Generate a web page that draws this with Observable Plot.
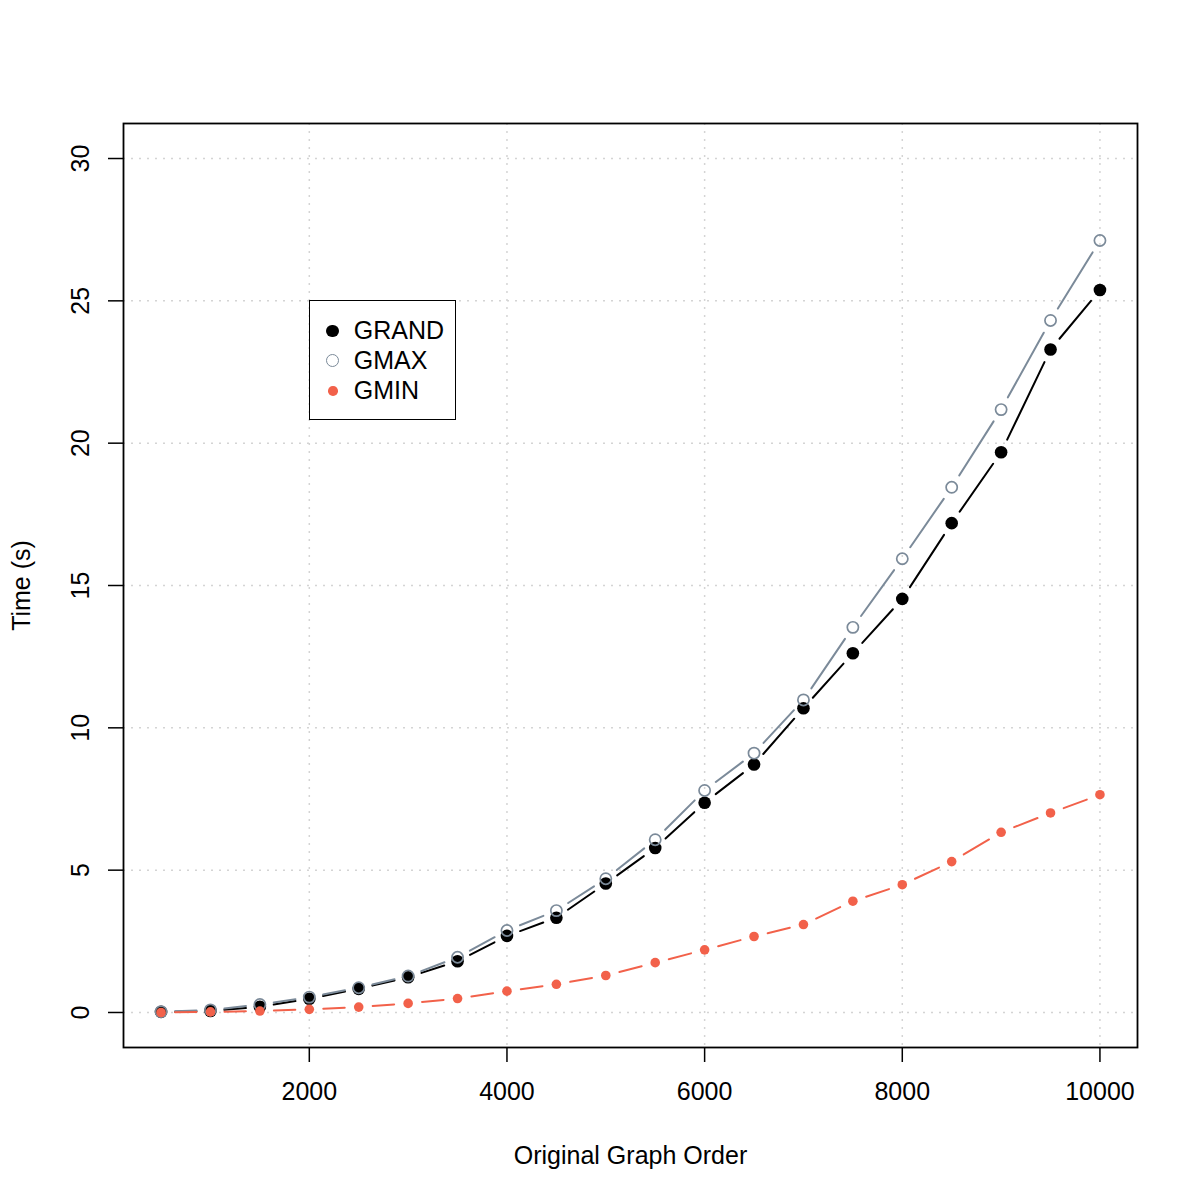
<!DOCTYPE html>
<html>
<head>
<meta charset="utf-8">
<script src="https://cdn.jsdelivr.net/npm/d3@7"></script>
<script src="https://cdn.jsdelivr.net/npm/@observablehq/plot@0.6"></script>
<style>
  html, body { margin: 0; padding: 0; background: #fff; }
  #wrap { position: relative; width: 1200px; height: 1200px; font-family: "Liberation Sans", Arial, Helvetica, sans-serif; }
  #legend { position: absolute; box-sizing: border-box; border: 1.5px solid #000; background: #fff; }
  .item { position: absolute; font-size: 25px; line-height: 1; white-space: nowrap; color: #000; }
  .sym { position: absolute; box-sizing: border-box; border-radius: 50%; }
</style>
</head>
<body>
<div id="wrap"></div>
<script>
// ---- data ----
const graphOrder = [500, 1000, 1500, 2000, 2500, 3000, 3500, 4000, 4500, 5000,
                    5500, 6000, 6500, 7000, 7500, 8000, 8500, 9000, 9500, 10000];
const grandTime = [0.02, 0.05, 0.2, 0.48, 0.83, 1.24, 1.8, 2.69, 3.33, 4.53,
                   5.78, 7.37, 8.71, 10.69, 12.62, 14.53, 17.19, 19.68, 23.29, 25.38];
const gmaxTime  = [0.03, 0.09, 0.28, 0.54, 0.87, 1.28, 1.94, 2.88, 3.58, 4.7,
                   6.07, 7.8, 9.11, 10.98, 13.53, 15.94, 18.45, 21.18, 24.31, 27.12];
const gminTime  = [0.0, 0.02, 0.05, 0.11, 0.19, 0.32, 0.49, 0.75, 0.99, 1.3,
                   1.75, 2.2, 2.67, 3.09, 3.91, 4.49, 5.3, 6.33, 7.01, 7.65];
const seriesNames = ["GRAND", "GMAX", "GMIN"];
const xTicks = [2000, 4000, 6000, 8000, 10000];
const yTicks = [0, 5, 10, 15, 20, 25, 30];
const xLabel = "Original Graph Order";
const yLabel = "Time (s)";
const legendAt = {x: 2000, y: 25};

// ---- styles ----
const colors = {GRAND: "#000000", GMAX: "#7B8A99", GMIN: "#F2614A"};
const FONT = "Liberation Sans, Arial, Helvetica, sans-serif";

function segments(xs, ys) {
  return xs.slice(1).map((x, i) => ({x1: xs[i], y1: ys[i], x2: x, y2: ys[i + 1]}));
}
function points(xs, ys) {
  return xs.map((x, i) => ({x, y: ys[i]}));
}

const W = 1200, H = 1200;
const mL = 123, mR = 63, mT = 123, mB = 153;

const marks = [
  Plot.gridX(xTicks, {stroke: "#d4d4d4", strokeOpacity: 1, strokeWidth: 1.5, strokeDasharray: "2,6"}),
  Plot.gridY(yTicks, {stroke: "#d4d4d4", strokeOpacity: 1, strokeWidth: 1.5, strokeDasharray: "2,6"}),
];

// GRAND: filled black dots
marks.push(
  Plot.arrow(segments(graphOrder, grandTime), {x1: "x1", y1: "y1", x2: "x2", y2: "y2",
    headLength: 0, insetStart: 14, insetEnd: 14, stroke: colors.GRAND, strokeWidth: 2}),
  Plot.dot(points(graphOrder, grandTime), {x: "x", y: "y", r: 6.3, fill: colors.GRAND, stroke: "none"})
);
// GMAX: open gray circles
marks.push(
  Plot.arrow(segments(graphOrder, gmaxTime), {x1: "x1", y1: "y1", x2: "x2", y2: "y2",
    headLength: 0, insetStart: 14, insetEnd: 14, stroke: colors.GMAX, strokeWidth: 2}),
  Plot.dot(points(graphOrder, gmaxTime), {x: "x", y: "y", r: 5.6, fill: "none", stroke: colors.GMAX, strokeWidth: 1.7})
);
// GMIN: small red dots
marks.push(
  Plot.arrow(segments(graphOrder, gminTime), {x1: "x1", y1: "y1", x2: "x2", y2: "y2",
    headLength: 0, insetStart: 14, insetEnd: 14, stroke: colors.GMIN, strokeWidth: 2}),
  Plot.dot(points(graphOrder, gminTime), {x: "x", y: "y", r: 4.8, fill: colors.GMIN, stroke: "none"})
);

// axes
marks.push(
  Plot.axisX({ticks: xTicks, tickSize: 15, tickPadding: 20, tickFormat: d => String(d),
    fontSize: 25, label: null, stroke: "#000", strokeWidth: 1.5}),
  Plot.axisY({ticks: yTicks, tickSize: 15, tickFormat: () => "", label: null, stroke: "#000", strokeWidth: 1.5}),
  Plot.text(yTicks, {y: d => d, text: d => String(d), frameAnchor: "left", rotate: -90,
    lineAnchor: "bottom", textAnchor: "middle", dx: -35, fontSize: 25, fill: "#000"}),
  Plot.text([xLabel], {frameAnchor: "bottom", lineAnchor: "bottom", dy: 116, fontSize: 25, fill: "#000"}),
  Plot.text([yLabel], {frameAnchor: "left", rotate: -90, lineAnchor: "bottom", textAnchor: "middle",
    dx: -94, fontSize: 25, fill: "#000"}),
  Plot.frame({stroke: "#000", strokeWidth: 1.8})
);

const chart = Plot.plot({
  width: W, height: H,
  marginLeft: mL, marginRight: mR, marginTop: mT, marginBottom: mB,
  style: {fontFamily: FONT, fontSize: "25px", background: "#fff", color: "#000"},
  x: {domain: [120, 10380], label: null},
  y: {domain: [-1.23, 31.23], label: null},
  marks
});

const wrap = document.getElementById("wrap");
wrap.appendChild(chart);

// legend, anchored at a data position (top-left corner) like R's legend(x, y)
const sx = chart.scale("x"), sy = chart.scale("y");
const lx = sx.apply(legendAt.x), ly = sy.apply(legendAt.y);
const legend = document.createElement("div");
legend.id = "legend";
legend.style.left = lx + "px";
legend.style.top = ly + "px";
legend.style.width = "147px";
legend.style.height = "120px";
wrap.appendChild(legend);
const symStyle = {
  GRAND: {r: 6.3, fill: colors.GRAND, border: "none"},
  GMAX: {r: 6.5, fill: "transparent", border: `1.7px solid ${colors.GMAX}`},
  GMIN: {r: 4.8, fill: colors.GMIN, border: "none"}
};
seriesNames.forEach((name, i) => {
  const cy = 29.5 + i * 30;
  const s = symStyle[name];
  const sym = document.createElement("div");
  sym.className = "sym";
  sym.style.width = sym.style.height = (2 * s.r) + "px";
  sym.style.left = (23 - s.r) + "px";
  sym.style.top = (cy - s.r) + "px";
  sym.style.background = s.fill;
  sym.style.border = s.border;
  legend.appendChild(sym);
  const t = document.createElement("div");
  t.className = "item";
  t.textContent = name;
  t.style.left = "44px";
  t.style.top = (cy - 13) + "px";
  legend.appendChild(t);
});
</script>
</body>
</html>
